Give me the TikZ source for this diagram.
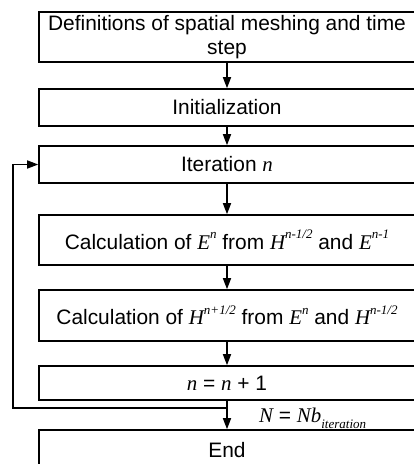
\documentclass[tikz,border=0pt]{standalone}
\usepackage{fontspec}
\setmainfont{Liberation Sans}
\newfontfamily\tms{Liberation Serif}
\usetikzlibrary{arrows.meta,calc}
\newcommand{\mi}[1]{{\tms\itshape #1}}
\newcommand{\supx}[1]{\raisebox{0.5em}{\fontsize{13}{13}\selectfont\tms\itshape #1}}
\newcommand{\subx}[1]{\raisebox{-0.3em}{\fontsize{13}{13}\selectfont\tms\itshape #1}}
\begin{document}
\begin{tikzpicture}[x=1pt,y=-1pt,
  box/.style={draw, line width=1.6pt, minimum width=376pt, inner sep=0pt, align=center, font=\fontsize{20.9}{24}\selectfont},
  arr/.style={line width=1.6pt, -{Triangle[length=11pt,width=8pt]}},
  lbl/.style={font=\fontsize{20.9}{24}\selectfont, inner sep=0pt}]
\useasboundingbox (0,0) rectangle (414,464);
\node[box, minimum height=50pt] (b1) at (227,37) {Definitions of spatial meshing and time\\step};
\node[box, minimum height=37pt] (b2) at (227,107.5) {Initialization};
\node[box, minimum height=37pt] (b3) at (227,164.5) {Iteration \mi{n}};
\node[box, minimum height=50pt] (b4) at (227,240) {Calculation of \mi{E}\supx{n} from \mi{H}\supx{n-1/2} and \mi{E}\supx{n-1}};
\node[box, minimum height=51pt] (b5) at (227,315.5) {Calculation of \mi{H}\supx{n+1/2} from \mi{E}\supx{n} and \mi{H}\supx{n-1/2}};
\node[box, minimum height=34pt] (b6) at (227,383) {\mi{n} = \mi{n} + 1};
\node[box, minimum height=40pt] (b7) at (227,450) {End};
\draw[arr] (b1.south) -- (b2.north);
\draw[arr] (b2.south) -- (b3.north);
\draw[arr] (b3.south) -- (b4.north);
\draw[arr] (b4.south) -- (b5.north);
\draw[arr] (b5.south) -- (b6.north);
\draw[arr] (b6.south) -- (b7.north);
\coordinate (j) at (227,408);
\coordinate (jl) at (13,408);
\draw[arr] (j) -- (jl) |- (b3.west);
\node[lbl, anchor=west] (cond) at (259,418) {\mi{N} = \mi{Nb}\subx{iteration}};
\end{tikzpicture}
\end{document}
